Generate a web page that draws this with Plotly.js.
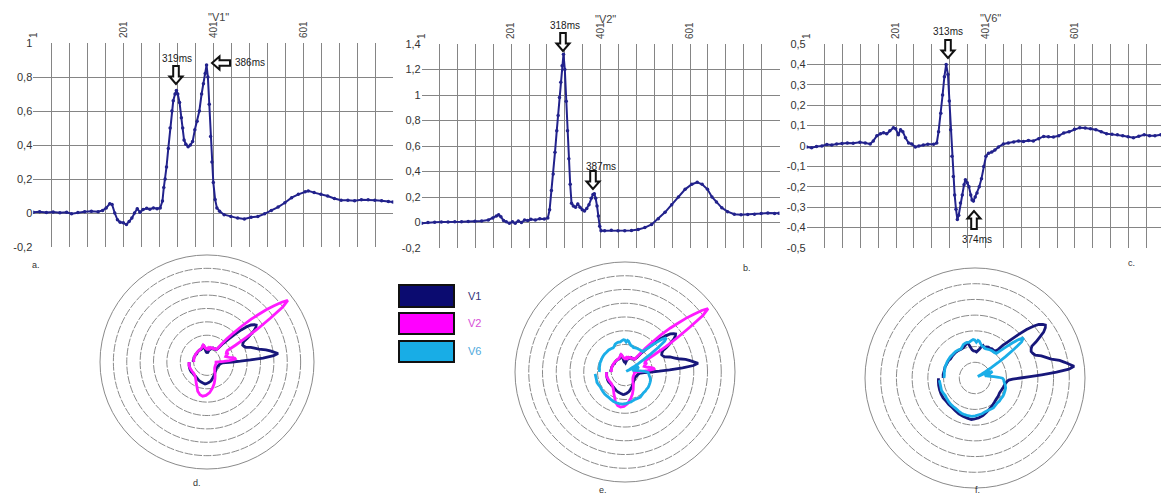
<!DOCTYPE html>
<html>
<head>
<meta charset="utf-8">
<script src="https://cdn.plot.ly/plotly-3.0.1.min.js"></script>
<style>html,body{margin:0;padding:0;background:#fff;}#chart{width:1161px;height:496px;}</style>
</head>
<body>
<div id="chart"></div>
<script>
// ---------- data (sample index in ms, amplitude) ----------
const v1Samples = [1,15,30,45,60,75,86,100,115,130,145,155,163,171,176,182,188,194,201,208,214,220,226,232,238,245,253,260,268,276,283,288,291,294,297,301,305,309,312,316,319,322,326,330,333,336,340,345,350,355,360,365,370,375,379,383,386,389,392,395,398,401,405,409,415,425,440,455,470,485,500,515,530,545,560,575,590,605,612,625,640,655,670,685,700,715,730,745,760,775,790,800];
const v1Values  = [0.005,0.008,0.003,0.006,0.002,0.004,-0.004,0.003,0.008,0.01,0.007,0.015,0.03,0.055,0.05,0.0,-0.04,-0.055,-0.058,-0.068,-0.05,-0.03,0.0,0.025,0.005,0.02,0.028,0.022,0.03,0.025,0.03,0.07,0.15,0.2,0.27,0.38,0.5,0.6,0.66,0.7,0.72,0.7,0.65,0.56,0.5,0.43,0.405,0.39,0.4,0.42,0.49,0.54,0.6,0.7,0.76,0.82,0.87,0.8,0.64,0.45,0.3,0.18,0.08,0.03,0.01,-0.01,-0.02,-0.03,-0.035,-0.025,-0.02,-0.005,0.015,0.035,0.06,0.09,0.11,0.125,0.13,0.12,0.11,0.1,0.085,0.075,0.075,0.072,0.078,0.078,0.075,0.072,0.068,0.065];

const v2Samples = [1,15,30,45,60,75,90,105,120,135,150,160,168,173,178,184,190,197,204,210,217,224,231,238,245,255,265,275,283,287,291,295,299,303,306,309,312,315,318,321,324,327,330,333,336,340,345,350,355,360,365,370,375,380,384,387,390,393,396,399,402,410,425,440,455,470,485,500,515,530,545,560,575,590,605,617,628,640,650,660,672,685,700,715,730,745,760,775,790,800];
const v2Values  = [-0.005,0.0,0.002,0.004,0.003,0.005,0.006,0.008,0.01,0.012,0.02,0.035,0.05,0.06,0.045,0.015,0.005,-0.005,0.005,-0.005,0.012,0.0,0.02,0.015,0.025,0.02,0.03,0.028,0.035,0.1,0.25,0.38,0.55,0.72,0.84,0.98,1.1,1.23,1.32,1.2,0.95,0.72,0.5,0.3,0.15,0.13,0.12,0.145,0.12,0.1,0.09,0.11,0.14,0.19,0.22,0.225,0.19,0.13,0.05,-0.03,-0.065,-0.065,-0.06,-0.065,-0.065,-0.062,-0.055,-0.04,-0.015,0.03,0.08,0.14,0.2,0.26,0.3,0.315,0.3,0.26,0.2,0.16,0.115,0.085,0.065,0.06,0.062,0.065,0.07,0.075,0.07,0.072];

const v6Samples = [1,12,23,35,46,57,68,80,92,105,120,132,143,150,158,166,173,180,187,195,200,206,211,216,222,229,236,244,252,262,272,285,292,296,301,305,309,313,317,320,323,326,329,332,335,338,341,345,349,353,356,360,364,368,371,374,378,382,387,392,397,402,408,415,422,430,441,452,464,475,486,497,508,520,531,542,553,565,576,588,600,612,624,636,648,660,672,684,696,708,720,732,744,756,768,780,793];
const v6Values  = [-0.005,-0.008,-0.003,0.0,0.007,0.005,0.01,0.012,0.015,0.013,0.018,0.015,0.01,0.025,0.05,0.06,0.065,0.06,0.075,0.09,0.085,0.055,0.08,0.07,0.04,0.015,0.01,-0.005,0.0,0.005,0.008,0.008,0.015,0.07,0.16,0.25,0.34,0.40,0.35,0.22,0.08,-0.05,-0.15,-0.24,-0.31,-0.36,-0.34,-0.28,-0.24,-0.19,-0.165,-0.18,-0.2,-0.24,-0.265,-0.27,-0.25,-0.23,-0.2,-0.16,-0.1,-0.05,-0.035,-0.03,-0.02,-0.005,0.01,0.015,0.02,0.025,0.022,0.027,0.025,0.035,0.047,0.045,0.044,0.05,0.064,0.07,0.082,0.09,0.088,0.085,0.08,0.07,0.06,0.057,0.055,0.05,0.045,0.04,0.048,0.055,0.05,0.05,0.055];

const seriesNames  = ['V1','V2','V6'];
const chartTitles  = ['"V1"','"V2"','"V6"'];
const panelLabels  = ['a.','b.','c.','d.','e.','f.'];
const xTickVals    = [1,201,401,601];
const xTickText    = ['1','201','401','601'];
const yTickValsAB  = [-0.2,0,0.2,0.4,0.6,0.8,1,1.2,1.4];
const yTickTextAB  = ['-0,2','0','0,2','0,4','0,6','0,8','1','1,2','1,4'];
const yTickValsC   = [-0.5,-0.4,-0.3,-0.2,-0.1,0,0.1,0.2,0.3,0.4,0.5];
const yTickTextC   = ['-0,5','-0,4','-0,3','-0,2','-0,1','0','0,1','0,2','0,3','0,4','0,5'];
const peakLabels   = ['319ms','386ms','318ms','387ms','313ms','374ms'];

// ---------- styles ----------
const ecgColor = '#22228c';
const colV1 = '#17177a', colV2 = '#ff1aff', colV6 = '#1aaee8';
const gridCol = '#858585';
const W = 1161, H = 496;
const px = v => v / W, py = v => 1 - v / H;

function ecg(xs, ys, ax) {
  return {type:'scatter', mode:'lines+markers', x:xs, y:ys, xaxis:'x'+ax, yaxis:'y'+ax,
    line:{color:ecgColor, width:2}, marker:{color:ecgColor, size:3.5}, hoverinfo:'skip', showlegend:false};
}
function pol(xs, ys, sub, color) {
  return {type:'scatterpolar', mode:'lines', theta:xs, r:ys, subplot:sub,
    line:{color:color, width:2.8}, hoverinfo:'skip', showlegend:false};
}

const data = [
  ecg(v1Samples, v1Values, ''),
  ecg(v2Samples, v2Values, '2'),
  ecg(v6Samples, v6Values, '3'),
  pol(v1Samples, v1Values, 'polar', colV1),
  pol(v2Samples, v2Values, 'polar', colV2),
  pol(v1Samples, v1Values, 'polar2', colV1),
  pol(v2Samples, v2Values, 'polar2', colV2),
  pol(v6Samples, v6Values, 'polar4', colV6),
  pol(v1Samples, v1Values, 'polar3', colV1),
  pol(v6Samples, v6Values, 'polar3', colV6)
];

function xax(d0, d1, r1, anchor) {
  return {domain:[px(d0), px(d1)], range:[1, r1], anchor:anchor, side:'top',
    tickmode:'array', tickvals:xTickVals, ticktext:xTickText, tickangle:-90,
    ticks:'', ticklabelstandoff:4, tickfont:{size:10, color:'#444'},
    showgrid:true, gridcolor:gridCol, gridwidth:1, zeroline:false, showline:false,
    minor:{tick0:1, dtick:40, showgrid:true, gridcolor:gridCol, gridwidth:1, ticks:''},
    fixedrange:true};
}
function yax(top, bot, rng, tv, tt, anchor) {
  return {domain:[py(bot), py(top)], range:rng, anchor:anchor,
    tickmode:'array', tickvals:tv, ticktext:tt, ticks:'', tickfont:{size:11, color:'#333'},
    showgrid:true, gridcolor:gridCol, gridwidth:1, zeroline:false, showline:false, fixedrange:true};
}

const cats = [];
for (let i = 1; i <= 800; i++) cats.push(i);
function polar(cx, cy, rad, rng, rings, showGrid) {
  return {domain:{x:[px(cx-rad), px(cx+rad)], y:[py(cy+rad), py(cy-rad)]},
    bgcolor:'rgba(0,0,0,0)',
    radialaxis:{range:rng, tickmode:'array', tickvals:rings, showticklabels:false, ticks:'',
      showline:false, showgrid:showGrid, gridcolor:'#8a8a8a', gridwidth:1, griddash:'8px,1.5px'},
    angularaxis:{type:'category', categoryarray:cats, rotation:180, direction:'clockwise',
      showgrid:false, showticklabels:false, ticks:'', showline:showGrid, linecolor:'#8a8a8a', linewidth:1}};
}

const ringsAB = [0,0.2,0.4,0.6,0.8,1,1.2];
const ringsF  = [-0.2,0,0.2,0.4,0.6,0.8];

const lblFont = {family:'Liberation Sans', size:10, color:'#1a1a1a'};
function ptxt(x, y, t, anchor, f) {
  return {xref:'paper', yref:'paper', x:px(x), y:py(y), text:t, showarrow:false,
    xanchor:anchor||'center', yanchor:'middle', font:f};
}
const annotations = [
  ptxt(218, 17, chartTitles[0], 'center', {size:11,color:'#444'}),
  ptxt(605, 19, chartTitles[1], 'center', {size:11,color:'#444'}),
  ptxt(990, 18, chartTitles[2], 'center', {size:11,color:'#444'}),
  ptxt(177, 58, peakLabels[0], 'center', lblFont),
  ptxt(233, 63, peakLabels[1], 'left', lblFont),
  ptxt(565, 25, peakLabels[2], 'center', lblFont),
  ptxt(601, 166, peakLabels[3], 'center', lblFont),
  ptxt(948, 32, peakLabels[4], 'center', lblFont),
  ptxt(977, 239, peakLabels[5], 'center', lblFont),
  ptxt(36, 265, panelLabels[0], 'center', {size:9,color:'#333'}),
  ptxt(747, 268, panelLabels[1], 'center', {size:9,color:'#333'}),
  ptxt(1131, 263, panelLabels[2], 'center', {size:9,color:'#333'}),
  ptxt(197, 483, panelLabels[3], 'center', {size:9,color:'#333'}),
  ptxt(603, 490, panelLabels[4], 'center', {size:9,color:'#333'}),
  ptxt(977, 490, panelLabels[5], 'center', {size:9,color:'#333'}),
  ptxt(466, 296, seriesNames[0], 'left', {size:11,color:'#34347a'}),
  ptxt(466, 323, seriesNames[1], 'left', {size:11,color:'#d84fd8'}),
  ptxt(466, 351, seriesNames[2], 'left', {size:11,color:'#4fa9dc'})
];

// hollow block arrows (pixel-sized, tip at anchor)
const arrowDown = 'M0,0 L-6.5,7.5 L-2.8,7.5 L-2.8,18 L2.8,18 L2.8,7.5 L6.5,7.5 Z';
const arrowUp   = 'M0,0 L-6.5,-7.5 L-2.8,-7.5 L-2.8,-18 L2.8,-18 L2.8,-7.5 L6.5,-7.5 Z';
const arrowLeft = 'M0,0 L7.5,6.5 L7.5,2.8 L18,2.8 L18,-2.8 L7.5,-2.8 L7.5,-6.5 Z';
function arrow(x, y, path) {
  return {type:'path', xref:'paper', yref:'paper', xsizemode:'pixel', ysizemode:'pixel',
    xanchor:px(x), yanchor:py(y), path:path, fillcolor:'#fff', line:{color:'#111', width:2}, layer:'above'};
}

const shapes = [
  {type:'rect', xref:'paper', yref:'paper', x0:px(399), x1:px(454), y0:py(307), y1:py(285), fillcolor:'#0b0b70', line:{color:'#111', width:2}},
  {type:'rect', xref:'paper', yref:'paper', x0:px(399), x1:px(454), y0:py(334), y1:py(313), fillcolor:'#ff00ff', line:{color:'#111', width:2}},
  {type:'rect', xref:'paper', yref:'paper', x0:px(399), x1:px(454), y0:py(362), y1:py(341), fillcolor:'#18ade6', line:{color:'#111', width:2}},
  arrow(176, 84, arrowDown),
  arrow(212, 63, arrowLeft),
  arrow(563, 51, arrowDown),
  arrow(593, 189, arrowDown),
  arrow(948, 58, arrowDown),
  arrow(974, 211, arrowUp)
];

const layout = {
  width:W, height:H, margin:{l:0, r:0, t:0, b:0}, paper_bgcolor:'#fff', plot_bgcolor:'#fff',
  separators:',.', font:{family:'Liberation Sans', color:'#333'}, showlegend:false,
  xaxis:xax(33.3, 393.3, 801, 'y'),
  yaxis:yax(43, 247, [-0.2, 1], yTickValsAB, yTickTextAB, 'x'),
  xaxis2:xax(421.7, 779.5, 801, 'y2'),
  yaxis2:yax(44, 248, [-0.2, 1.4], yTickValsAB, yTickTextAB, 'x2'),
  xaxis3:xax(806.7, 1161, 793.6, 'y3'),
  yaxis3:yax(44, 248, [-0.5, 0.5], yTickValsC, yTickTextC, 'x3'),
  polar: polar(207, 362, 107, [-0.2, 1.4], ringsAB, true),
  polar2: polar(625, 372, 110, [-0.2, 1.4], ringsAB, true),
  polar4: polar(625, 372, 110, [-0.38, 1.22], [], false),
  polar3: polar(975, 378, 110, [-0.4, 1.0], ringsF, true),
  annotations:annotations, shapes:shapes
};

Plotly.newPlot('chart', data, layout, {staticPlot:true, displayModeBar:false});
</script>
</body>
</html>
